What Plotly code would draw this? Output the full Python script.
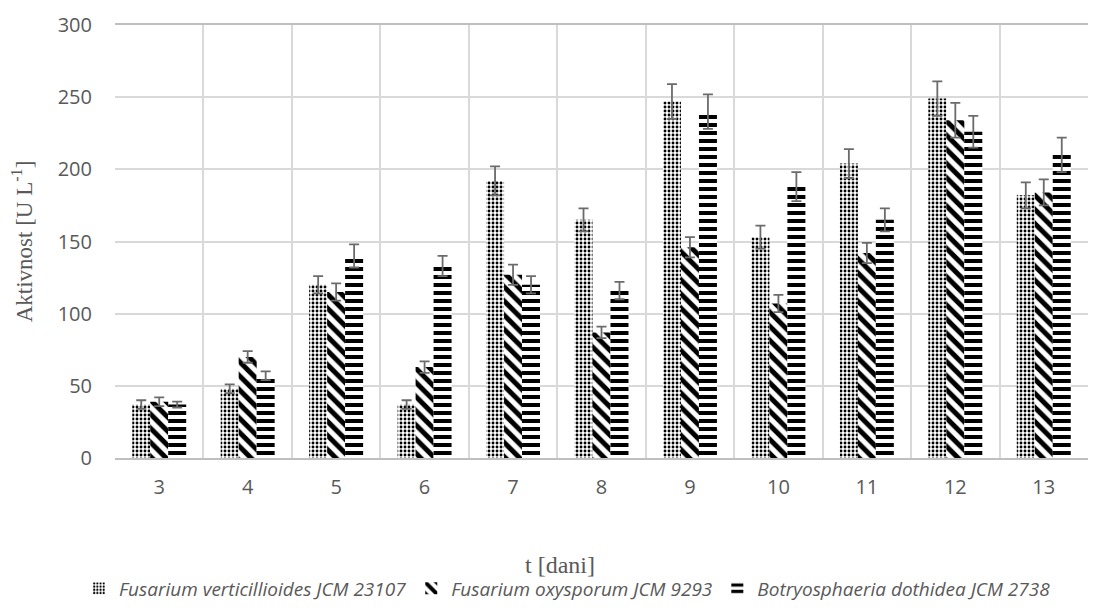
import plotly.graph_objects as go

days = ["3", "4", "5", "6", "7", "8", "9", "10", "11", "12", "13"]
series_names = ["Fusarium verticillioides JCM 23107",
                "Fusarium oxysporum JCM 9293",
                "Botryosphaeria dothidea JCM 2738"]
fv = [37, 48, 120, 37, 192, 165, 247, 153, 204, 249, 182]
fv_err = [3, 3, 6, 3, 10, 8, 12, 8, 10, 12, 9]
fo = [39, 70, 115, 63, 127, 87, 146, 107, 142, 234, 184]
fo_err = [3, 4, 6, 4, 7, 4, 7, 6, 7, 12, 9]
bd = [37, 57, 140, 133, 120, 116, 240, 188, 165, 226, 210]
bd_err = [2, 3, 8, 7, 6, 6, 12, 10, 8, 11, 12]

values = [fv, fo, bd]
errors = [fv_err, fo_err, bd_err]
patterns = [dict(shape=".", fgcolor="#000000", bgcolor="white", fgopacity=1, size=4, solidity=0.4),
            dict(shape="\\", fgcolor="#000000", bgcolor="white", fgopacity=1, size=10, solidity=0.5),
            dict(shape="-", fgcolor="#000000", bgcolor="white", fgopacity=1, size=8, solidity=0.5)]

fig = go.Figure()
for name, v, e, p in zip(series_names, values, errors, patterns):
    fig.add_trace(go.Bar(
        x=days, y=v, name=name,
        marker=dict(color="white", pattern=p, line=dict(width=0)),
        error_y=dict(type="data", array=e, visible=True, color="#6b6b6b",
                     thickness=1.8, width=5),
    ))

fig.update_layout(
    width=1094, height=600,
    barmode="group", bargap=0.39, bargroupgap=0,
    plot_bgcolor="white", paper_bgcolor="white",
    margin=dict(l=107, r=14, t=17, b=150, autoexpand=False),
    font=dict(family="Open Sans", color="#595959", size=20),
    showlegend=True,
    legend=dict(orientation="h", x=0.465, xanchor="center", y=-0.345, yanchor="bottom",
                font=dict(family="Open Sans", size=19, color="#595959", style="italic"),
                itemwidth=30, tracegroupgap=0),
    xaxis=dict(type="category", tickson="boundaries", showgrid=True,
               gridcolor="#d9d9d9", gridwidth=1.5, ticks="",
               showline=True, linecolor="#bfbfbf", linewidth=1.5, mirror=True,
               ticklabelstandoff=10,
               tickfont=dict(size=20, color="#595959")),
    yaxis=dict(range=[0, 300], dtick=50, showgrid=True, gridcolor="#d9d9d9",
               gridwidth=1.5, zeroline=False, showline=False, ticks="",
               ticklabelstandoff=22,
               tickfont=dict(size=20, color="#595959"),
               title=dict(text="Aktivnost [U L<sup>-1</sup>]",
                          font=dict(family="Liberation Serif", size=23, color="#595959"),
                          standoff=24)),
)
fig.add_annotation(text="t [dani]", xref="paper", yref="paper", x=0.457, y=-0.247,
                   xanchor="center", yanchor="middle", showarrow=False,
                   font=dict(family="Liberation Serif", size=24, color="#595959"))

fig.write_html("out.html")
